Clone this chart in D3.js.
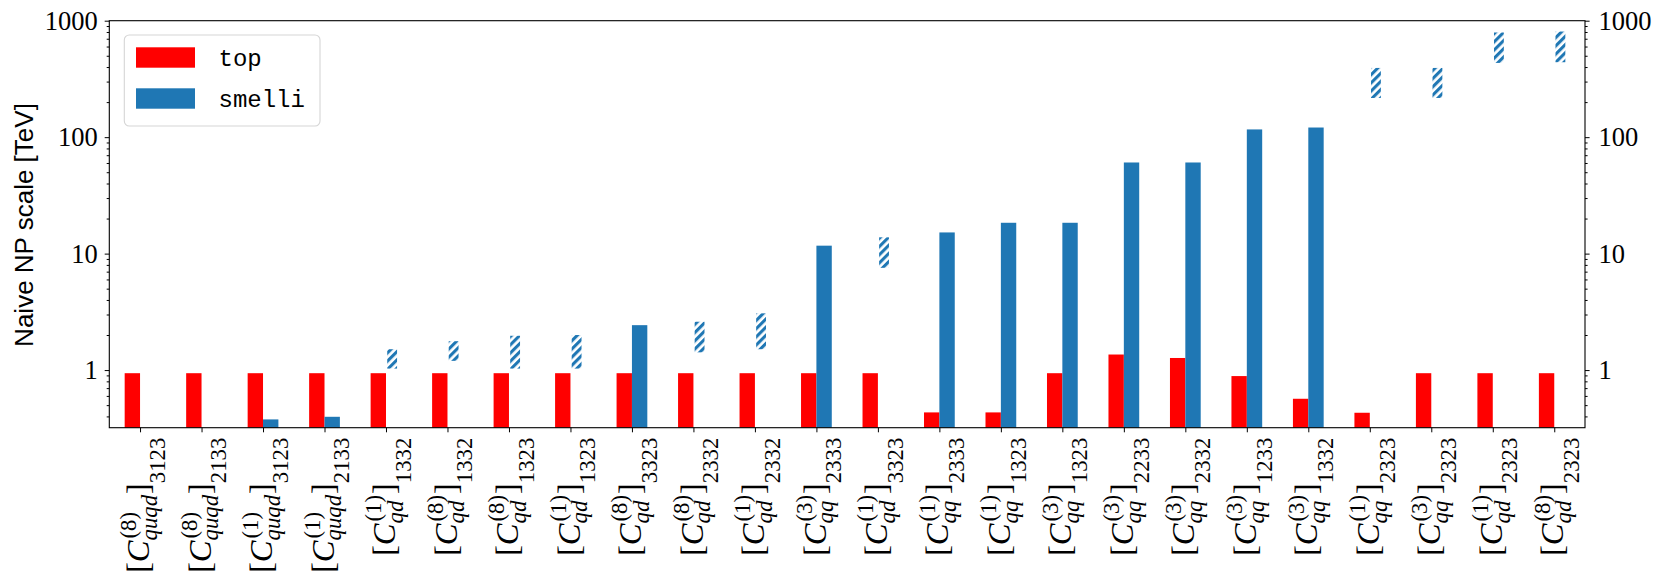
<!DOCTYPE html>
<html><head><meta charset="utf-8">
<script src="https://cdn.jsdelivr.net/npm/d3@7"></script>
<style>body{margin:0;background:#fff} svg{display:block}</style>
</head><body><svg id="chart" width="1660" height="578"></svg>
<script>
// ---------- data ----------
const opSup = ["8","8","1","1","1","8","8","1","8","8","1","3","1","1","1","3","3","3","3","3","1","3","1","8"];
const opSub = ["quqd","quqd","quqd","quqd","qd","qd","qd","qd","qd","qd","qd","qq","qd","qq","qq","qq","qq","qq","qq","qq","qq","qq","qd","qd"];
const flavour = ["3123","2133","3123","2133","1332","1332","1323","1323","3323","2332","2332","2333","3323","2333","1323","1323","2233","2332","1233","1332","2323","2323","2323","2323"];
const topValues = [0.94,0.94,0.94,0.94,0.94,0.94,0.94,0.94,0.94,0.94,0.94,0.94,0.94,0.433,0.433,0.94,1.36,1.27,0.888,0.567,0.43,0.94,0.94,0.94];
const smelliValues = [null,null,0.377,0.397,null,null,null,null,2.43,null,null,11.7,null,15.2,18.4,18.4,60.6,60.6,116.5,121,null,null,null,null];
const smelliBoundLow  = [null,null,null,null,1.03,1.2,1.03,1.03,null,1.42,1.51,null,7.55,null,null,null,null,null,null,null,217,217,434,440];
const smelliBoundHigh = [null,null,null,null,1.51,1.77,1.97,2.0,null,2.6,3.07,null,13.8,null,null,null,null,null,null,null,393,393,792,807];
const yTickValues = [1,10,100,1000];
const seriesNames = ["top","smelli"];
const seriesColors = ["#ff0000","#1f77b4"];

// ---------- layout ----------
const L = 109.3, R = 1585, T = 20.7, B = 427.7;
const svg = d3.select("#chart");
const serif = "'Liberation Serif','DejaVu Serif',serif";

const x = d3.scaleLinear().domain([-0.5, flavour.length - 0.5]).range([L, R]);
const y = d3.scaleLog().domain([0.32, 1000]).range([B, T]);
const bw = 0.25;

// hatch pattern
const defs = svg.append("defs");
const pat = defs.append("pattern").attr("id","hatch").attr("patternUnits","userSpaceOnUse")
  .attr("width",5.8).attr("height",5.8).attr("patternTransform","rotate(45)");
pat.append("rect").attr("width",5.8).attr("height",5.8).attr("fill","#fff");
pat.append("rect").attr("x",0).attr("y",0).attr("width",3.1).attr("height",5.8).attr("fill",seriesColors[1]);

const plot = svg.append("g");
plot.selectAll("rect.top").data(topValues).join("rect").attr("class","top")
  .attr("x",(d,i)=>x(i-bw)).attr("width",(d,i)=>x(i)-x(i-bw))
  .attr("y",d=>y(d)).attr("height",d=>B-y(d)).attr("fill",seriesColors[0]);
const sm = smelliValues.map((v,i)=>({v,i})).filter(d=>d.v!=null);
plot.selectAll("rect.sm").data(sm).join("rect").attr("class","sm")
  .attr("x",d=>x(d.i)).attr("width",d=>x(d.i+bw)-x(d.i))
  .attr("y",d=>y(d.v)).attr("height",d=>B-y(d.v)).attr("fill",seriesColors[1]);
const hb = smelliBoundLow.map((lo,i)=>({lo,hi:smelliBoundHigh[i],i})).filter(d=>d.lo!=null);
plot.selectAll("rect.hb").data(hb).join("rect").attr("class","hb")
  .attr("x",d=>x(d.i+0.02)).attr("width",d=>x(d.i+0.18)-x(d.i+0.02))
  .attr("y",d=>y(d.hi)).attr("height",d=>y(d.lo)-y(d.hi)).attr("fill","url(#hatch)");

// frame
svg.append("rect").attr("x",L).attr("y",T).attr("width",R-L).attr("height",B-T)
  .attr("fill","none").attr("stroke","#000").attr("stroke-width",1.1);

const minors = [];
for (let e=-1;e<3;e++) for (let m=2;m<10;m++){ const v=m*Math.pow(10,e); if (v>0.32 && v<1000) minors.push(v); }

function styleAxis(g){
  g.select(".domain").remove();
  g.selectAll("line").attr("stroke","#000").attr("stroke-width",1);
  g.selectAll("text").attr("font-family",serif).attr("font-size",26.5).attr("fill","#000");
}
const fmt = d3.format("d");
svg.append("g").attr("transform",`translate(${L},0)`)
  .call(d3.axisLeft(y).tickValues(yTickValues).tickFormat(fmt).tickSize(4.6).tickPadding(7).tickSizeOuter(0)).call(styleAxis);
svg.append("g").attr("transform",`translate(${L},0)`)
  .call(d3.axisLeft(y).tickValues(minors).tickFormat("").tickSize(2.6).tickSizeOuter(0)).call(styleAxis);
svg.append("g").attr("transform",`translate(${R},0)`)
  .call(d3.axisRight(y).tickValues(yTickValues).tickFormat(fmt).tickSize(4.6).tickPadding(9).tickSizeOuter(0)).call(styleAxis);
svg.append("g").attr("transform",`translate(${R},0)`)
  .call(d3.axisRight(y).tickValues(minors).tickFormat("").tickSize(2.6).tickSizeOuter(0)).call(styleAxis);
svg.append("g").attr("transform",`translate(0,${B})`)
  .call(d3.axisBottom(x).tickValues(d3.range(flavour.length)).tickFormat("").tickSize(4.6).tickSizeOuter(0)).call(styleAxis);

// x tick labels
const s = 32.5, ss = 0.7*s;
flavour.forEach((fl,i)=>{
  const g = svg.append("g").attr("transform",`translate(${x(i)},438) rotate(-90)`);
  const inner = g.append("g");
  let u = 0;
  const add = (txt, size, italic, uu, v) => {
    const t = inner.append("text").attr("x",uu).attr("y",v).attr("font-family",serif)
      .attr("font-size",size).attr("font-style",italic?"italic":"normal").attr("fill","#000").text(txt);
    return t.node().getComputedTextLength();
  };
  u += add("[", s, false, u, 0);
  u += add("C", s, true, u, 0);
  const w1 = add("("+opSup[i]+")", ss, false, u + 0.06*s, -0.42*s);
  const w2 = add(opSub[i], ss, true, u, 0.24*s);
  u += Math.max(w1 + 0.06*s, w2) + 0.02*s;
  u += add("]", s, false, u, 0);
  u += add(fl, ss, false, u + 0.01*s, 0.48*s);
  inner.attr("transform",`translate(${-u},${0.28*s})`);
});

// y label
svg.append("text").attr("transform","translate(32.5,225) rotate(-90)").attr("text-anchor","middle")
  .attr("font-family","'Liberation Sans','DejaVu Sans',sans-serif").attr("font-size",26).attr("fill","#000")
  .text("Naive NP scale [TeV]");

// legend
const lg = svg.append("g");
lg.append("rect").attr("x",124.3).attr("y",35).attr("width",195.7).attr("height",91).attr("rx",5)
  .attr("fill","#fff").attr("fill-opacity",0.8).attr("stroke","#d5d5d5").attr("stroke-width",1.1);
seriesNames.forEach((n,k)=>{
  lg.append("rect").attr("x",136).attr("y",47.3+41*k).attr("width",59).attr("height",20.4).attr("fill",seriesColors[k]);
  lg.append("text").attr("x",218.5).attr("y",65.5+41.5*k).attr("font-family","'Liberation Mono','DejaVu Sans Mono',monospace")
    .attr("font-size",24).attr("fill","#000").text(n);
});
</script></body></html>
